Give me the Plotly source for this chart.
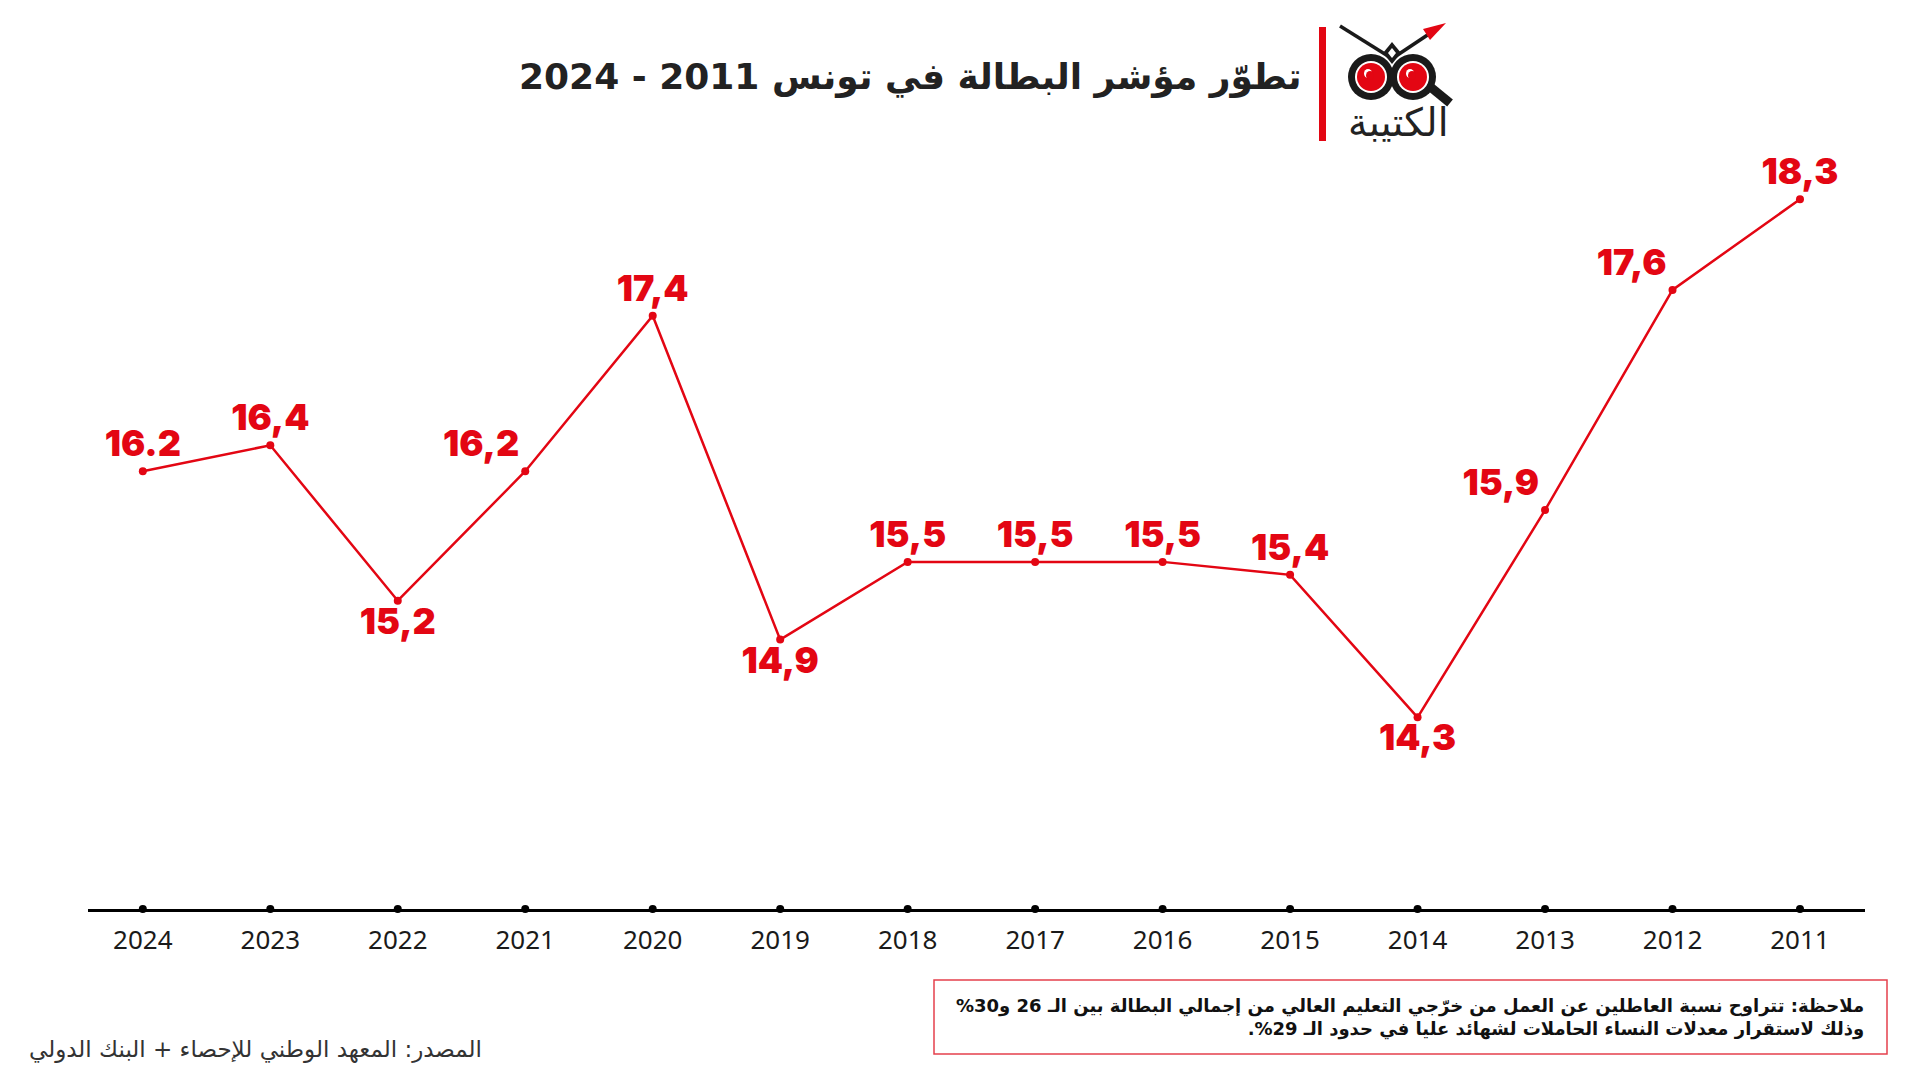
import plotly.graph_objects as go

years = ["2024", "2023", "2022", "2021", "2020", "2019", "2018", "2017", "2016", "2015", "2014", "2013", "2012", "2011"]
rates = [16.2, 16.4, 15.2, 16.2, 17.4, 14.9, 15.5, 15.5, 15.5, 15.4, 14.3, 15.9, 17.6, 18.3]
labels = ["16.2", "16,4", "15,2", "16,2", "17,4", "14,9", "15,5", "15,5", "15,5", "15,4", "14,3", "15,9", "17,6", "18,3"]
label_pos = ["top center", "top center", "bottom center", "top left", "top center", "bottom center",
             "top center", "top center", "top center", "top center", "bottom center", "top left",
             "top left", "top center"]

title = "تطوّر مؤشر البطالة في تونس 2011 - 2024"
note_lines = ["ملاحظة: تتراوح نسبة العاطلين عن العمل من خرّجي التعليم العالي من إجمالي البطالة بين الـ 26 و30%",
              "وذلك لاستقرار معدلات النساء الحاملات لشهائد عليا في حدود الـ 29%."]
source = "المصدر: المعهد الوطني للإحصاء + البنك الدولي"
logo_text = "الكتيبة"

RTL = "\u202B"
PDF = "\u202C"

RED = "#e30613"
W, H = 1920, 1080
ML, MR, MT, MB = 88, 55, 150, 171
YMIN, YMAX = 12.82, 18.68

def px(x):
    return (x - ML) / (W - ML - MR)

def py(y):
    return (H - MB - y) / (H - MT - MB)

fig = go.Figure()
fig.add_trace(go.Scatter(
    x=years, y=rates, mode="lines+markers+text",
    line=dict(color=RED, width=2.5),
    marker=dict(color=RED, size=8),
    text=labels, textposition=label_pos,
    textfont=dict(family="Inter", size=36, color=RED, weight=900),
    cliponaxis=False, hoverinfo="skip", showlegend=False,
))
# axis dots
fig.add_trace(go.Scatter(
    x=years, y=[YMIN] * len(years), mode="markers",
    marker=dict(color="black", size=8), cliponaxis=False,
    hoverinfo="skip", showlegend=False,
))

shapes = []
# red bar next to title
shapes.append(dict(type="rect", xref="paper", yref="paper", x0=px(1319), x1=px(1326), y0=py(141), y1=py(27),
                   fillcolor=RED, line=dict(width=0)))
# logo antennae
shapes.append(dict(type="line", xref="paper", yref="paper", x0=px(1340), y0=py(26), x1=px(1388), y1=py(56),
                   line=dict(color="#1a1a1a", width=3.5)))
shapes.append(dict(type="line", xref="paper", yref="paper", x0=px(1396), y0=py(56), x1=px(1432), y1=py(32),
                   line=dict(color="#1a1a1a", width=3.5)))
shapes.append(dict(type="path", xref="paper", yref="paper",
                   path=f"M {px(1446)},{py(23)} L {px(1423)},{py(29)} L {px(1430)},{py(40)} Z",
                   fillcolor=RED, line=dict(width=0)))
# diamond
shapes.append(dict(type="path", xref="paper", yref="paper",
                   path=f"M {px(1392)},{py(42)} L {px(1401)},{py(53)} L {px(1392)},{py(64)} L {px(1383)},{py(53)} Z",
                   fillcolor="#1a1a1a", line=dict(width=0)))
shapes.append(dict(type="path", xref="paper", yref="paper",
                   path=f"M {px(1392)},{py(48)} L {px(1396)},{py(53)} L {px(1392)},{py(58)} L {px(1388)},{py(53)} Z",
                   fillcolor="white", line=dict(width=0)))
# magnifier handle
shapes.append(dict(type="line", xref="paper", yref="paper", x0=px(1428), y0=py(85), x1=px(1450), y1=py(103),
                   line=dict(color="#1a1a1a", width=9)))
# eyes
for cx in (1371, 1413):
    cy = 77
    shapes.append(dict(type="circle", xref="paper", yref="paper", x0=px(cx - 23), x1=px(cx + 23),
                       y0=py(cy + 23), y1=py(cy - 23), fillcolor="#1a1a1a", line=dict(width=0)))
    shapes.append(dict(type="circle", xref="paper", yref="paper", x0=px(cx - 16), x1=px(cx + 16),
                       y0=py(cy + 16), y1=py(cy - 16), fillcolor="white", line=dict(width=0)))
    shapes.append(dict(type="circle", xref="paper", yref="paper", x0=px(cx - 14), x1=px(cx + 14),
                       y0=py(cy + 14), y1=py(cy - 14), fillcolor=RED, line=dict(width=0)))
    shapes.append(dict(type="circle", xref="paper", yref="paper", x0=px(cx - 7), x1=px(cx + 1),
                       y0=py(cy + 1), y1=py(cy - 8), fillcolor="white", line=dict(width=0)))
    shapes.append(dict(type="circle", xref="paper", yref="paper", x0=px(cx - 5), x1=px(cx + 3),
                       y0=py(cy + 3), y1=py(cy - 6), fillcolor=RED, line=dict(width=0)))
# note box
shapes.append(dict(type="rect", xref="paper", yref="paper", x0=px(934), x1=px(1887), y0=py(1054), y1=py(980),
                   fillcolor="rgba(0,0,0,0)", line=dict(color="#e5404c", width=1.5)))

note = "<br>".join(RTL + l + PDF for l in note_lines)

annotations = [
    dict(text=f"<b>{RTL}{title}{PDF}</b>", xref="paper", yref="paper", x=px(1304), y=py(77),
         xanchor="right", yanchor="middle", showarrow=False,
         font=dict(family="DejaVu Sans", size=36, color="#222222")),
    dict(text=logo_text, xref="paper", yref="paper", x=px(1398), y=py(123),
         xanchor="center", yanchor="middle", showarrow=False,
         font=dict(family="DejaVu Sans", size=39, color="#222222")),
    dict(text=f"<b>{note}</b>", xref="paper", yref="paper", x=px(1866), y=py(1017),
         xanchor="right", yanchor="middle", align="right", showarrow=False,
         font=dict(family="DejaVu Sans", size=18, color="#111111")),
    dict(text=RTL + source + PDF, xref="paper", yref="paper", x=px(27), y=py(1049),
         xanchor="left", yanchor="middle", showarrow=False,
         font=dict(family="DejaVu Sans", size=23, color="#333333")),
]

fig.update_layout(
    width=W, height=H,
    margin=dict(l=ML, r=MR, t=MT, b=MB, autoexpand=False),
    paper_bgcolor="white", plot_bgcolor="white",
    xaxis=dict(type="category", range=[-0.43, 13.51], showgrid=False, zeroline=False,
               showline=True, linecolor="black", linewidth=3, ticks="",
               tickfont=dict(family="Noto Sans", size=26, color="#1a1a1a"), ticklabelstandoff=6),
    yaxis=dict(range=[YMIN, YMAX], visible=False, showgrid=False, zeroline=False),
    shapes=shapes, annotations=annotations,
)

fig.write_html("out.html", config={"displayModeBar": False},
               post_script="document.body.style.margin='0px';")
